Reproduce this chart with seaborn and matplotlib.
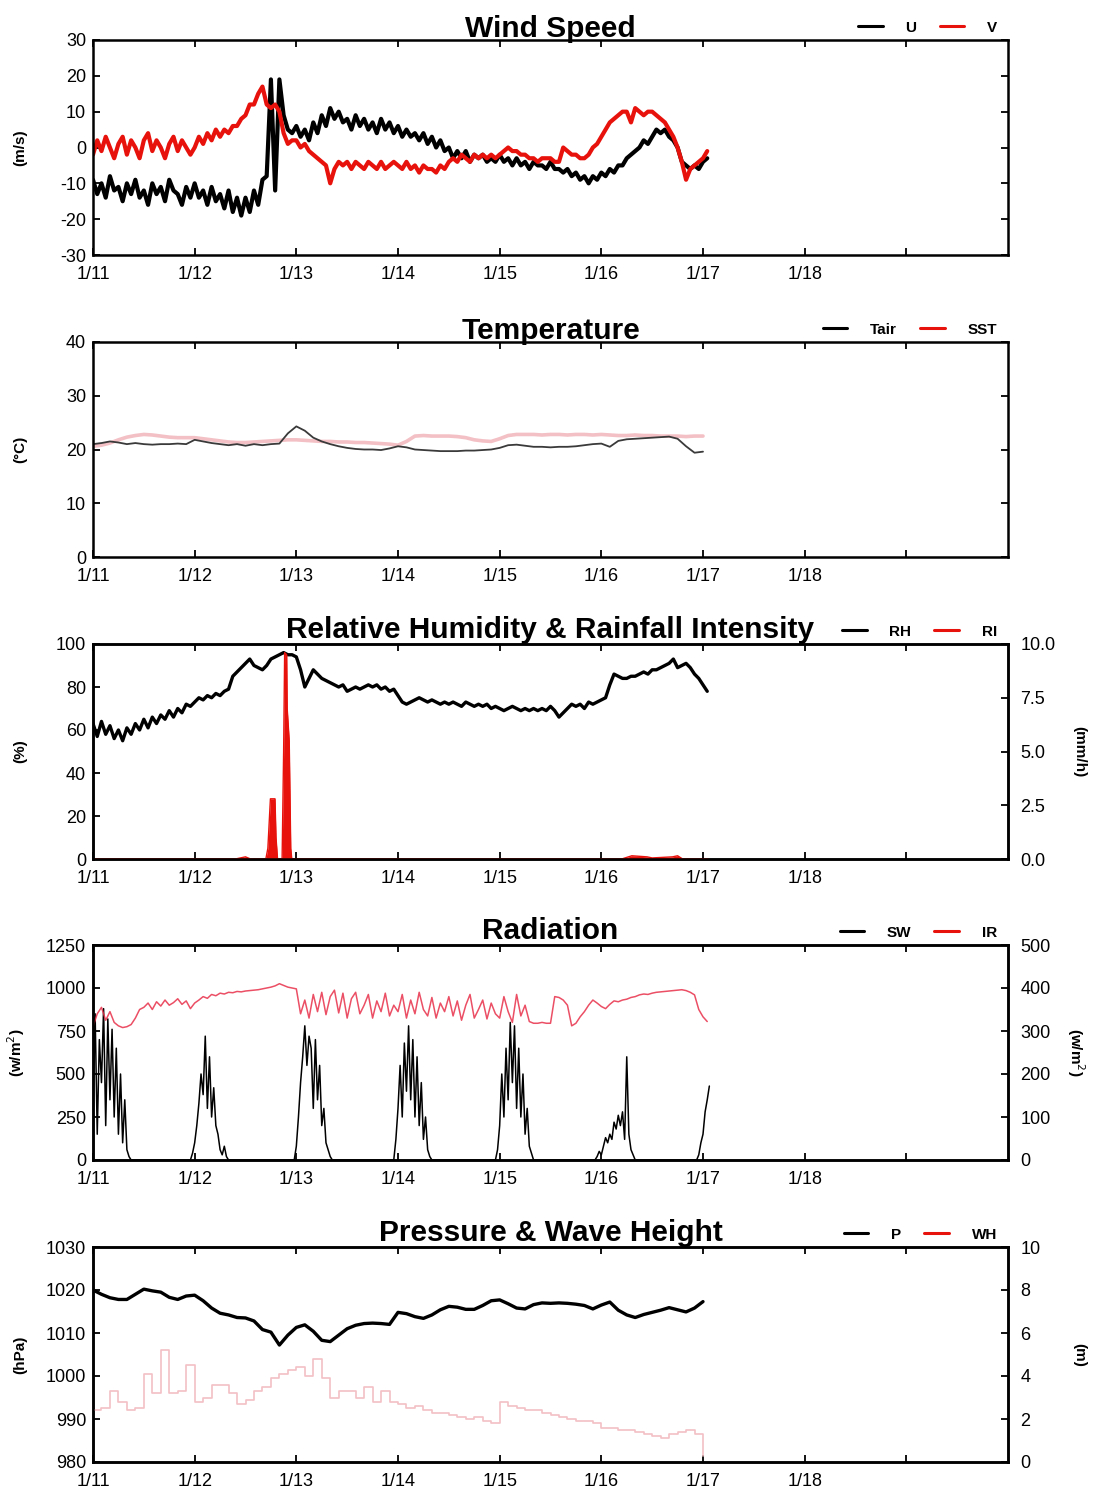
import numpy as np
import pandas as pd
import matplotlib
matplotlib.use("Agg")
import matplotlib.pyplot as plt
from matplotlib.lines import Line2D
import seaborn as sns

# ---------------------------------------------------------------------------
# Buoy observations, 1/11 - 1/17 (time in days since 1/11 00:00)
# ---------------------------------------------------------------------------
# hourly series
wind_u = [
    -9, -13, -10, -14, -8, -12, -11, -15, -10, -13, -9, -14,
    -12, -16, -10, -13, -11, -15, -9, -12, -13, -16, -11, -14,
    -10, -14, -12, -16, -11, -15, -13, -17, -12, -18, -14, -19,
    -14, -18, -12, -16, -9, -8, 19, -12, 19, 9, 5, 4,
    6, 3, 5, 2, 7, 4, 9, 6, 11, 8, 10, 7,
    8, 5, 9, 6, 8, 5, 7, 4, 8, 5, 7, 4,
    6, 3, 5, 3, 4, 2, 4, 1, 3, 0, 2, -1,
    0, -3, -1, -3, -1, -4, -2, -3, -2, -4, -3, -4,
    -2, -4, -3, -5, -3, -5, -4, -6, -4, -5, -5, -6,
    -4, -6, -6, -7, -6, -8, -7, -9, -8, -10, -8, -9,
    -7, -8, -6, -7, -5, -5, -3, -2, -1, 0, 2, 1,
    3, 5, 4, 5, 3, 2, 0, -4, -5, -6, -5, -6,
    -4, -3,
]
wind_v = [
    -2, 2, -1, 3, 0, -3, 1, 3, -2, 2, 0, -3,
    2, 4, -1, 2, 0, -3, 1, 3, -1, 2, 0, -2,
    0, 3, 1, 4, 2, 5, 3, 5, 4, 6, 6, 8,
    9, 12, 12, 15, 17, 12, 11, 12, 10, 4, 1, 2,
    2, 0, 1, -1, -2, -3, -4, -5, -10, -6, -4, -5,
    -4, -6, -4, -5, -6, -4, -5, -6, -4, -6, -5, -4,
    -5, -6, -4, -6, -5, -7, -5, -6, -6, -7, -5, -6,
    -4, -3, -4, -2, -3, -4, -2, -3, -2, -3, -2, -3,
    -2, -1, 0, -1, -1, -2, -2, -3, -3, -4, -3, -3,
    -3, -4, -4, 0, -1, -2, -2, -3, -3, -2, 0, 1,
    3, 5, 7, 8, 9, 10, 10, 7, 11, 10, 9, 10,
    10, 9, 8, 7, 5, 3, 0, -4, -9, -6, -5, -4,
    -3, -1,
]
rel_hum = [
    63, 57, 64, 58, 62, 56, 60, 55, 61, 58, 63, 60,
    65, 61, 66, 63, 67, 65, 69, 66, 70, 68, 72, 71,
    73, 75, 74, 76, 75, 77, 76, 78, 79, 85, 87, 89,
    91, 93, 90, 89, 88, 90, 93, 94, 95, 96, 95, 95,
    94, 88, 80, 84, 88, 86, 84, 83, 82, 81, 80, 81,
    78, 79, 80, 79, 80, 81, 80, 81, 79, 80, 78, 79,
    76, 73, 72, 73, 74, 75, 74, 73, 74, 73, 72, 73,
    72, 73, 72, 71, 73, 72, 71, 72, 71, 72, 70, 71,
    70, 69, 70, 71, 70, 69, 70, 69, 70, 69, 70, 69,
    71, 69, 66, 68, 70, 72, 71, 72, 70, 73, 72, 73,
    74, 75, 81, 86, 85, 84, 84, 85, 85, 86, 87, 86,
    88, 88, 89, 90, 91, 93, 89, 90, 91, 89, 86, 84,
    81, 78,
]
infrared = [
    310, 340, 355, 325, 345, 320, 312, 308, 310, 315, 330, 350,
    355, 365, 350, 368, 358, 372, 360, 366, 375, 362, 370, 352,
    365, 372, 380, 376, 385, 382, 388, 386, 390, 389, 392, 391,
    393, 394, 395, 396, 398, 400, 402, 405, 410, 406, 402, 400,
    398, 340, 372, 330, 385, 345, 390, 338, 380, 395, 342, 388,
    330, 375, 390, 340, 360, 385, 330, 370, 345, 388, 335, 360,
    345, 385, 330, 372, 340, 390, 350, 335, 378, 330, 365, 345,
    380, 335, 370, 325, 360, 385, 330, 350, 372, 328, 365, 340,
    330, 380, 345, 320, 385, 335, 360, 322, 318, 318, 320, 318,
    318, 380, 378, 372, 360, 312, 318, 333, 345, 360, 372, 365,
    357, 352, 362, 370, 368, 372, 374, 378, 380, 384, 386, 385,
    388, 390, 391, 392, 393, 394, 395, 396, 394, 390, 384, 350,
    333, 322,
]

# half-hourly shortwave radiation (one row per half day)
short_wave = [
    300, 850, 150, 700, 450, 880, 200, 820, 350, 760, 250, 650, 150, 500, 100, 350, 60, 20, 0, 0, 0, 0, 0, 0,
    0, 0, 0, 0, 0, 0, 0, 0, 0, 0, 0, 0, 0, 0, 0, 0, 0, 0, 0, 0, 0, 0, 0, 40,
    100, 200, 330, 500, 380, 720, 300, 600, 250, 420, 200, 150, 60, 30, 80, 20, 0, 0, 0, 0, 0, 0, 0, 0,
    0, 0, 0, 0, 0, 0, 0, 0, 0, 0, 0, 0, 0, 0, 0, 0, 0, 0, 0, 0, 0, 0, 0, 0,
    80, 250, 450, 600, 780, 550, 720, 650, 300, 700, 350, 550, 200, 300, 100, 60, 20, 0, 0, 0, 0, 0, 0, 0,
    0, 0, 0, 0, 0, 0, 0, 0, 0, 0, 0, 0, 0, 0, 0, 0, 0, 0, 0, 0, 0, 0, 0, 120,
    300, 550, 250, 680, 400, 780, 350, 700, 250, 600, 200, 450, 120, 250, 60, 20, 0, 0, 0, 0, 0, 0, 0, 0,
    0, 0, 0, 0, 0, 0, 0, 0, 0, 0, 0, 0, 0, 0, 0, 0, 0, 0, 0, 0, 0, 0, 0, 60,
    200, 500, 250, 650, 350, 800, 450, 780, 300, 650, 250, 500, 150, 300, 80, 40, 0, 0, 0, 0, 0, 0, 0, 0,
    0, 0, 0, 0, 0, 0, 0, 0, 0, 0, 0, 0, 0, 0, 0, 0, 0, 0, 0, 0, 0, 0, 20, 50,
    30, 80, 130, 100, 150, 120, 220, 180, 260, 200, 280, 120, 600, 150, 60, 30, 0, 0, 0, 0, 0, 0, 0, 0,
    0, 0, 0, 0, 0, 0, 0, 0, 0, 0, 0, 0, 0, 0, 0, 0, 0, 0, 0, 0, 0, 0, 30, 100,
    150, 280, 350, 430,
]

# two-hourly series
air_temp = [
    21.0, 21.2, 21.5, 21.3, 21.0, 21.2, 21.0, 20.9, 21.0, 21.0, 21.1, 21.0,
    21.8, 21.5, 21.2, 21.0, 20.8, 21.0, 20.7, 21.0, 20.8, 21.0, 21.1, 23.0,
    24.3, 23.5, 22.2, 21.5, 21.0, 20.6, 20.3, 20.1, 20.0, 20.0, 19.9, 20.2,
    20.6, 20.4, 20.0, 19.9, 19.8, 19.7, 19.7, 19.7, 19.8, 19.8, 19.9, 20.0,
    20.3, 20.8, 20.9, 20.7, 20.5, 20.5, 20.4, 20.5, 20.5, 20.6, 20.8, 21.0,
    21.1, 20.5, 21.6, 21.9, 22.0, 22.1, 22.2, 22.3, 22.4, 22.0, 20.6, 19.4,
    19.6,
]
sea_temp = [
    20.6, 20.8, 21.2, 21.8, 22.3, 22.6, 22.8, 22.7, 22.5, 22.3, 22.2, 22.2,
    22.2, 22.0, 21.8, 21.6, 21.4, 21.3, 21.3, 21.4, 21.5, 21.6, 21.7, 21.8,
    21.8, 21.7, 21.6, 21.5, 21.5, 21.4, 21.4, 21.3, 21.3, 21.2, 21.1, 21.0,
    20.8, 21.5, 22.5, 22.6, 22.5, 22.5, 22.5, 22.4, 22.2, 21.8, 21.6, 21.5,
    22.0, 22.6, 22.8, 22.8, 22.8, 22.7, 22.8, 22.8, 22.7, 22.8, 22.8, 22.7,
    22.8, 22.7, 22.6, 22.6, 22.7, 22.6, 22.6, 22.5, 22.5, 22.5, 22.4, 22.5,
    22.5,
]
pressure = [
    1020.0, 1019.0, 1018.2, 1017.8, 1017.8, 1019.0, 1020.2, 1019.8, 1019.5, 1018.3, 1017.8, 1018.6,
    1018.8, 1017.5, 1015.8, 1014.6, 1014.2, 1013.6, 1013.5, 1012.8, 1010.8, 1010.2, 1007.2, 1009.5,
    1011.3, 1011.9, 1010.4, 1008.3, 1008.0, 1009.5, 1011.0, 1011.8, 1012.2, 1012.3, 1012.2, 1012.0,
    1014.8, 1014.5, 1013.8, 1013.4, 1014.2, 1015.4, 1016.2, 1016.0, 1015.5, 1015.5, 1016.4, 1017.5,
    1017.7, 1016.8, 1015.8, 1015.6, 1016.6, 1017.0, 1016.9, 1017.0, 1016.9, 1016.7, 1016.4, 1015.6,
    1016.5, 1017.2, 1015.3, 1014.2, 1013.6, 1014.3, 1014.8, 1015.3, 1015.9, 1015.4, 1014.9, 1015.8,
    1017.3,
]
wave_height = [
    2.4, 2.5, 3.3, 2.8, 2.4, 2.5, 4.1, 3.2, 5.2, 3.2, 3.3, 4.5,
    2.8, 3.0, 3.6, 3.6, 3.2, 2.7, 2.9, 3.3, 3.5, 3.9, 4.1, 4.3,
    4.4, 4.0, 4.8, 3.9, 3.0, 3.3, 3.3, 3.0, 3.5, 2.8, 3.3, 2.8,
    2.7, 2.5, 2.6, 2.4, 2.3, 2.3, 2.2, 2.1, 2.0, 2.1, 1.9, 1.8,
    2.8, 2.6, 2.5, 2.4, 2.4, 2.3, 2.2, 2.1, 2.0, 1.9, 1.9, 1.8,
    1.6, 1.6, 1.5, 1.5, 1.4, 1.3, 1.2, 1.1, 1.3, 1.4, 1.5, 1.3,
    0.3,
]

# rainfall intensity (irregular sampling around the rain events)
rain_time = [0.0, 1.40, 1.50, 1.55, 1.70, 1.72, 1.745, 1.79, 1.80, 1.815,
             1.86, 1.875, 1.885, 1.905, 1.91, 1.93, 1.945, 1.955, 2.0,
             5.20, 5.30, 5.45, 5.50, 5.70, 5.75, 5.80, 6.05]
rain_rate = [0, 0, 0.1, 0, 0, 0.5, 2.8, 2.8, 1.0, 0,
             0, 5.0, 9.6, 9.5, 7.0, 5.5, 0.5, 0, 0,
             0, 0.15, 0.1, 0.05, 0.1, 0.15, 0, 0]

day_labels = ["1/11", "1/12", "1/13", "1/14", "1/15", "1/16", "1/17", "1/18", ""]

# ---------------------------------------------------------------------------
hourly = pd.DataFrame({
    "t": np.arange(len(wind_u)) / 24.0,
    "U": wind_u, "V": wind_v, "RH": rel_hum, "IR": infrared,
})
half_hourly = pd.DataFrame({"t": np.arange(len(short_wave)) / 48.0, "SW": short_wave})
two_hourly = pd.DataFrame({
    "t": np.arange(len(air_temp)) / 12.0,
    "Tair": air_temp, "SST": sea_temp, "P": pressure, "WH": wave_height,
})
rain = pd.DataFrame({"t": rain_time, "RI": rain_rate})

sns.set_theme(style="white")
plt.rcParams["font.family"] = ["Liberation Sans", "DejaVu Sans"]
plt.rcParams["axes.linewidth"] = 1.8
plt.rcParams["axes.unicode_minus"] = False
for key in ("text.color", "axes.labelcolor", "xtick.color", "ytick.color",
            "axes.titlecolor"):
    plt.rcParams[key] = "black"

W, H = 1097, 1495
fig = plt.figure(figsize=(W / 100, H / 100), dpi=100)
fig.patch.set_facecolor("white")

LEFT, RIGHT = 93, 1008
TOPS = [40, 342, 644, 945, 1247]
PH = 215

BLACK = "#000000"
RED = "#e8120c"
PINK = "#f3c0c5"


def make_axes(top):
    return fig.add_axes([LEFT / W, 1 - (top + PH) / H, (RIGHT - LEFT) / W, PH / H])


def style_x(ax):
    ax.set_xlim(0, 9)
    ax.set_xticks(range(9))
    ax.set_xticklabels(day_labels)
    ax.set_xlabel("")


def style_ticks(ax, right=True):
    ax.tick_params(axis="both", direction="in", length=5, width=1.3,
                   labelsize=13, top=True, right=right, left=True, bottom=True)
    ax.tick_params(axis="x", pad=8)
    ax.tick_params(axis="y", pad=5)
    for lab in ax.get_yticklabels():
        lab.set_verticalalignment("center_baseline")
    for s in ax.spines.values():
        s.set_linewidth(1.8)
        s.set_color("black")


def style_right(ax):
    ax.tick_params(axis="y", direction="in", length=5, width=1.3, labelsize=13, pad=9)
    for lab in ax.get_yticklabels():
        lab.set_verticalalignment("center_baseline")
    ax.grid(False)
    for s in ax.spines.values():
        s.set_linewidth(1.8)
        s.set_color("black")


def add_legend(ax, labels, colors):
    handles = [Line2D([0], [0], color=c, lw=2.2) for c in colors]
    ax.legend(handles, labels, loc="lower right", bbox_to_anchor=(0.988, 1.025),
              ncol=2, frameon=False, handlelength=1.6, handletextpad=1.5,
              columnspacing=1.5, borderpad=0.0, borderaxespad=0.0,
              prop={"size": 11, "weight": "bold"})


def add_title(ax, text):
    ax.set_title(text, fontsize=21.5, fontweight="bold", pad=2, color="black")


def left_label(ax, text):
    ax.set_ylabel(text, fontsize=11, fontweight="bold", rotation=90)
    ax.yaxis.set_label_coords(-0.072, 0.5)


def right_label(ax, text):
    ax.set_ylabel(text, fontsize=11, fontweight="bold", rotation=270, labelpad=0)
    ax.yaxis.set_label_position("right")
    ax.yaxis.set_label_coords(1.086, 0.5)


# --- Wind speed ---------------------------------------------------------------
ax1 = make_axes(TOPS[0])
sns.lineplot(data=hourly, x="t", y="U", ax=ax1, color=BLACK, lw=3.0, estimator=None)
sns.lineplot(data=hourly, x="t", y="V", ax=ax1, color=RED, lw=3.0, estimator=None)
ax1.set_ylim(-30, 30)
ax1.set_yticks(range(-30, 31, 10))
style_x(ax1)
style_ticks(ax1)
left_label(ax1, "(m/s)")
add_title(ax1, "Wind Speed")
add_legend(ax1, ["U", "V"], [BLACK, RED])

# --- Temperature ----------------------------------------------------------------
ax2 = make_axes(TOPS[1])
sns.lineplot(data=two_hourly, x="t", y="SST", ax=ax2, color=PINK, lw=2.6, estimator=None)
sns.lineplot(data=two_hourly, x="t", y="Tair", ax=ax2, color="#3a3a3a", lw=1.3, estimator=None)
ax2.set_ylim(0, 40)
ax2.set_yticks(range(0, 41, 10))
style_x(ax2)
style_ticks(ax2)
left_label(ax2, "(\u00b0C)")
add_title(ax2, "Temperature")
add_legend(ax2, ["Tair", "SST"], [BLACK, RED])

# --- Relative humidity & rainfall intensity -------------------------------------
ax3 = make_axes(TOPS[2])
sns.lineplot(data=hourly, x="t", y="RH", ax=ax3, color=BLACK, lw=2.4, estimator=None)
ax3.set_ylim(0, 100)
ax3.set_yticks(range(0, 101, 20))
style_x(ax3)
style_ticks(ax3, right=False)
left_label(ax3, "(%)")
add_title(ax3, "Relative Humidity & Rainfall Intensity")
ax3r = ax3.twinx()
ax3r.fill_between(rain["t"], 0, rain["RI"], color=RED, lw=0)
sns.lineplot(data=rain, x="t", y="RI", ax=ax3r, color=RED, lw=1.0, estimator=None)
ax3r.set_ylim(0, 10)
ax3r.set_yticks([0, 2.5, 5, 7.5, 10])
ax3r.set_yticklabels(["0.0", "2.5", "5.0", "7.5", "10.0"])
style_right(ax3r)
right_label(ax3r, "(mm/h)")
add_legend(ax3r, ["RH", "RI"], [BLACK, RED])

# --- Radiation --------------------------------------------------------------------
ax4 = make_axes(TOPS[3])
sns.lineplot(data=half_hourly, x="t", y="SW", ax=ax4, color=BLACK, lw=1.1, estimator=None)
ax4.set_ylim(0, 1250)
ax4.set_yticks(range(0, 1251, 250))
style_x(ax4)
style_ticks(ax4, right=False)
left_label(ax4, "(w/m$^2$)")
add_title(ax4, "Radiation")
ax4r = ax4.twinx()
sns.lineplot(data=hourly, x="t", y="IR", ax=ax4r, color="#e8304a", lw=1.1,
             alpha=0.85, estimator=None)
ax4r.set_ylim(0, 500)
ax4r.set_yticks(range(0, 501, 100))
style_right(ax4r)
right_label(ax4r, "(w/m$^2$)")
add_legend(ax4r, ["SW", "IR"], [BLACK, RED])

# --- Pressure & wave height --------------------------------------------------------
ax5 = make_axes(TOPS[4])
sns.lineplot(data=two_hourly, x="t", y="P", ax=ax5, color=BLACK, lw=2.4, estimator=None)
ax5.set_ylim(980, 1030)
ax5.set_yticks(range(980, 1031, 10))
style_x(ax5)
style_ticks(ax5, right=False)
left_label(ax5, "(hPa)")
add_title(ax5, "Pressure & Wave Height")
ax5r = ax5.twinx()
sns.lineplot(data=two_hourly, x="t", y="WH", ax=ax5r, color=PINK, lw=1.2,
             drawstyle="steps-post", estimator=None)
ax5r.set_ylim(0, 10)
ax5r.set_yticks(range(0, 11, 2))
style_right(ax5r)
right_label(ax5r, "(m)")
add_legend(ax5r, ["P", "WH"], [BLACK, RED])

fig.savefig("out.png", dpi=100, facecolor="white")
